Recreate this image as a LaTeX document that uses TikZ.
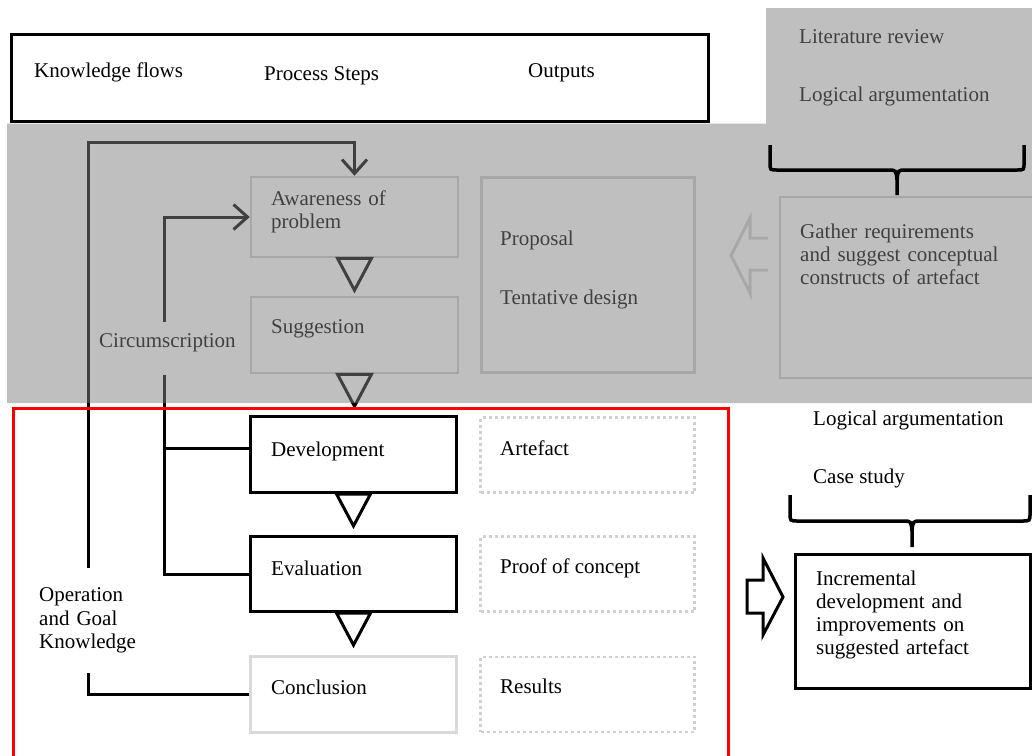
\documentclass[tikz,border=0pt]{standalone}
\usepackage{fontspec}
\setmainfont{Liberation Serif}
\usetikzlibrary{arrows.meta}
\definecolor{paleline}{HTML}{D0D0D0}
\definecolor{fadedline}{HTML}{D9D9D9}
\definecolor{veil}{HTML}{808080}
\definecolor{framered}{HTML}{FF0000}

\begin{document}
\begin{tikzpicture}[x=1pt,y=-1pt,
  every node/.style={font=\fontsize{21}{23.3}\selectfont},
  txt/.style={inner sep=0pt, anchor=base west},
  multitxt/.style={inner sep=0pt, anchor=base west, align=left, text width=#1},
  stepbox/.style={draw, line width=3pt, inner sep=0pt, minimum width=206pt},
  palebox/.style={draw=paleline, line width=2.5pt, inner sep=0pt},
  outbox/.style={draw=paleline, line width=2.5pt, dash pattern=on 3pt off 3pt,
    inner sep=0pt, minimum width=214pt, minimum height=75pt},
  conn/.style={line width=3pt},
  barb/.style={-{Straight Barb[length=14pt,width=25pt,line width=3pt]}},
  steptri/.style={line width=3pt, line join=miter},
  brace/.style={line width=3.5pt},
  hollow/.style={line width=3pt, line join=miter}
]
\useasboundingbox (0,0) rectangle (1032,755);

% header strip
\node[draw, line width=3pt, fill=white, minimum width=697pt, minimum height=87pt,
  inner sep=0pt] (header) at (359.5,78) {};
\node[txt] (hflows) at (34,77) {Knowledge flows};
\node[txt] (hsteps) at (264,80) {Process Steps};
\node[txt] (houts) at (528,77) {Outputs};

% research methods of the first two steps
\node[txt] (litrev) at (799,43) {Literature review};
\node[txt] (logarg) at (799,101) {Logical argumentation};

% process steps
\node[palebox, minimum width=207pt, minimum height=80pt] (awareness) at (354.5,217) {};
\node[palebox, minimum width=207pt, minimum height=76pt] (suggestion) at (354.5,335) {};
\node[stepbox, minimum height=76pt] (development) at (353.5,454.5) {};
\node[stepbox, minimum height=75pt] (evaluation) at (353.5,574) {};
\node[draw=fadedline, line width=3pt, inner sep=0pt, minimum width=206pt,
  minimum height=76pt] (conclusion) at (353.5,694.5) {};

\node[multitxt=180pt] (awaretxt) at (271,205) {Awareness of\\problem};
\node[txt] (suggtxt) at (271,333) {Suggestion};
\node[txt] (devtxt) at (271,456) {Development};
\node[txt] (evaltxt) at (271,575) {Evaluation};
\node[txt] (conctxt) at (271,694) {Conclusion};

% arrows between steps
\foreach \s in {awareness,suggestion,development,evaluation}
  \draw[steptri] ([xshift=-17pt]\s.south) -- ([xshift=17pt]\s.south)
    -- ([yshift=-32pt]\s.south) -- cycle;

% outputs
\node[palebox, minimum width=213pt, minimum height=195pt] (proposal) at (588,275) {};
\node[txt] (proptxt) at (500,245) {Proposal};
\node[txt] (tenttxt) at (500,304) {Tentative design};
\node[outbox] (artefact) at (587.5,455) {};
\node[outbox] (proof) at (587.5,574) {};
\node[outbox] (results) at (587.5,694.5) {};
\node[txt] (arttxt) at (500,455) {Artefact};
\node[txt] (prooftxt) at (500,573) {Proof of concept};
\node[txt] (restxt) at (500,693) {Results};

% first phase: requirements gathering
\node[palebox, minimum width=256pt, minimum height=181pt] (gather) at (908,287.5) {};
\node[multitxt=230pt] (gathtxt) at (800,238) {Gather requirements\\and suggest conceptual\\constructs of artefact};
\draw[draw=paleline, hollow] (768,238) -- (750,238) -- (750,218) -- (731,255.5)
  -- (750,293) -- (750,270) -- (768,270);

% knowledge flows
\coordinate (loopcorner) at (88,142);
\coordinate (circtop) at (164,322);
\coordinate (circbot) at (164,375);
\draw[conn, barb] (conclusion.west) -| (loopcorner) -| (awareness.north);
\draw[conn, barb] (circtop) |- (awareness.west);
\draw[conn] (circbot) |- ([yshift=6pt]development.west);
\draw[conn] (circbot) |- (evaluation.west);
\node[txt] (circ) at (99,347) {Circumscription};
\node[fill=white, inner sep=0pt, minimum height=105pt, anchor=west,
  align=left, text width=110pt] (opknow) at (36,620.5)
  {\hspace*{3pt}Operation\\\hspace*{3pt}and Goal\\\hspace*{3pt}Knowledge};

% grey veil over the first phase
\fill[veil, fill opacity=0.5] (7,123.5) rectangle (1032,403)
  (766,8) rectangle (1032,123.5);

% brace joining the first-phase methods
\draw[brace] (770,145) -- (770,163) .. controls (770,170) .. (777,170) -- (888,170)
  .. controls (896,170) .. (897,180) -- (897,195);
\draw[brace] (1024,145) -- (1024,163) .. controls (1024,170) .. (1017,170) -- (906,170)
  .. controls (898,170) .. (897,180);

% second phase frame
\draw[framered, line width=3pt] (13,760) -- (13,408) -- (728,408) -- (728,760);

% second phase: implementation
\node[txt] (logarg2) at (813,425) {Logical argumentation};
\node[txt] (casestudy) at (813,483) {Case study};
\draw[brace] (790,495) -- (790,513) .. controls (790,521) .. (798,521) -- (903,521)
  .. controls (911,521) .. (912,531) -- (912,547);
\draw[brace] (1030,495) -- (1030,513) .. controls (1030,521) .. (1022,521) -- (921,521)
  .. controls (913,521) .. (912,531);
\node[draw, line width=3pt, inner sep=0pt, minimum width=235pt, minimum height=134pt]
  (increment) at (913,621.5) {};
\node[multitxt=210pt] (inctxt) at (816,585)
  {Incremental\\development and\\improvements on\\suggested artefact};
\draw[hollow] (747,580) -- (763,580) -- (763,558) -- (783,597) -- (763,635)
  -- (763,613) -- (747,613) -- cycle;
\end{tikzpicture}
\end{document}
